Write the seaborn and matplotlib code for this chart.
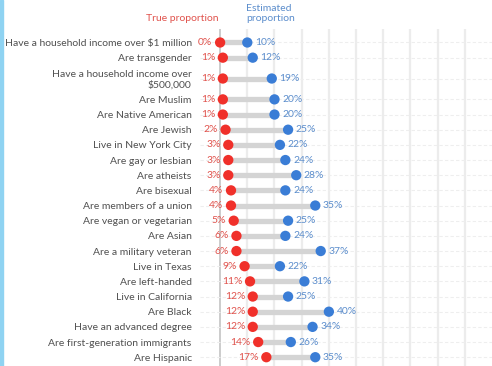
import numpy as np
import pandas as pd
import matplotlib
matplotlib.use("Agg")
import matplotlib.pyplot as plt
import matplotlib.patches as patches
import seaborn as sns

# data
labels = [
    "Have a household income over $1 million",
    "Are transgender",
    "Have a household income over\n$500,000",
    "Are Muslim",
    "Are Native American",
    "Are Jewish",
    "Live in New York City",
    "Are gay or lesbian",
    "Are atheists",
    "Are bisexual",
    "Are members of a union",
    "Are vegan or vegetarian",
    "Are Asian",
    "Are a military veteran",
    "Live in Texas",
    "Are left-handed",
    "Live in California",
    "Are Black",
    "Have an advanced degree",
    "Are first-generation immigrants",
    "Are Hispanic",
]
true_pct = [0, 1, 1, 1, 1, 2, 3, 3, 3, 4, 4, 5, 6, 6, 9, 11, 12, 12, 12, 14, 17]
est_pct = [10, 12, 19, 20, 20, 25, 22, 24, 28, 24, 35, 25, 24, 37, 22, 31, 25, 40, 34, 26, 35]

RED = "#f0302a"
RED_TXT = "#e0524c"
BLUE = "#3a7dd6"
BLUE_TXT = "#5b8dcc"
GRAY = "#d4d4d4"

sns.set_theme(style="white")
plt.rcParams["font.family"] = ["Lato", "DejaVu Sans"]

# rows with two-line labels get more room
heights = np.array([1 + 0.75 * (lab.count("\n")) for lab in labels])
ypos = np.cumsum(heights) - heights / 2

df = pd.DataFrame({"label": labels, "true": true_pct, "est": est_pct, "y": ypos})

fig = plt.figure(figsize=(4.92, 3.66), dpi=100)
ax = fig.add_axes([200 / 492, 0, 292 / 492, 337 / 366])

# light gridlines
for gx in range(10, 100, 10):
    ax.axvline(gx, color="#ececec", lw=1.6, zorder=0)
ax.axvline(0, color="#c8c8c8", lw=1.3, zorder=0)
for yy in df["y"]:
    ax.axhline(yy, color="#eeeeee", lw=0.8, ls=(0, (3, 2)), zorder=0)

ax.hlines(df["y"], df["true"], df["est"], color=GRAY, lw=3.8, zorder=1)
sns.scatterplot(data=df, x="true", y="y", color=RED, s=55, edgecolor="none", zorder=3, ax=ax)
sns.scatterplot(data=df, x="est", y="y", color=BLUE, s=55, edgecolor="none", zorder=3, ax=ax)

for _, r in df.iterrows():
    ax.annotate(f"{r['true']}%", (r["true"], r["y"]), xytext=(-5.5, 0), textcoords="offset points",
                ha="right", va="center", color=RED_TXT, fontsize=7.5, annotation_clip=False)
    ax.annotate(f"{r['est']}%", (r["est"], r["y"]), xytext=(5.5, 0), textcoords="offset points",
                ha="left", va="center", color=BLUE_TXT, fontsize=7.5, annotation_clip=False)

# column headers sit over the first row's points
ax.annotate("True proportion", (true_pct[0], 1), xycoords=("data", "axes fraction"),
            xytext=(-1, 4), textcoords="offset points", ha="right", va="bottom",
            color=RED_TXT, fontsize=7.5, annotation_clip=False)
ax.annotate("Estimated\nproportion", (est_pct[0], 1), xycoords=("data", "axes fraction"),
            xytext=(-1, 4), textcoords="offset points", ha="left", va="bottom",
            color=BLUE_TXT, fontsize=7.5, linespacing=1.2, annotation_clip=False)

ax.set_yticks(df["y"])
ax.set_yticklabels(labels, fontsize=7.5, color="#505050", linespacing=1.1)
ax.tick_params(axis="y", length=0, pad=6)
ax.set_xticks([])
ax.set_xlim(-7.4, 100)
ax.set_ylim(ypos[-1] + 0.58, ypos[0] - 0.89)
ax.set_xlabel("")
ax.set_ylabel("")
for s in ax.spines.values():
    s.set_visible(False)

# thin blue edge on the left as in the screenshot
fig.patches.append(patches.Rectangle((0, 0), 2.5 / 492, 1, transform=fig.transFigure,
                                     color="#8fd3f2", zorder=10))

fig.savefig("out.png", dpi=100)
